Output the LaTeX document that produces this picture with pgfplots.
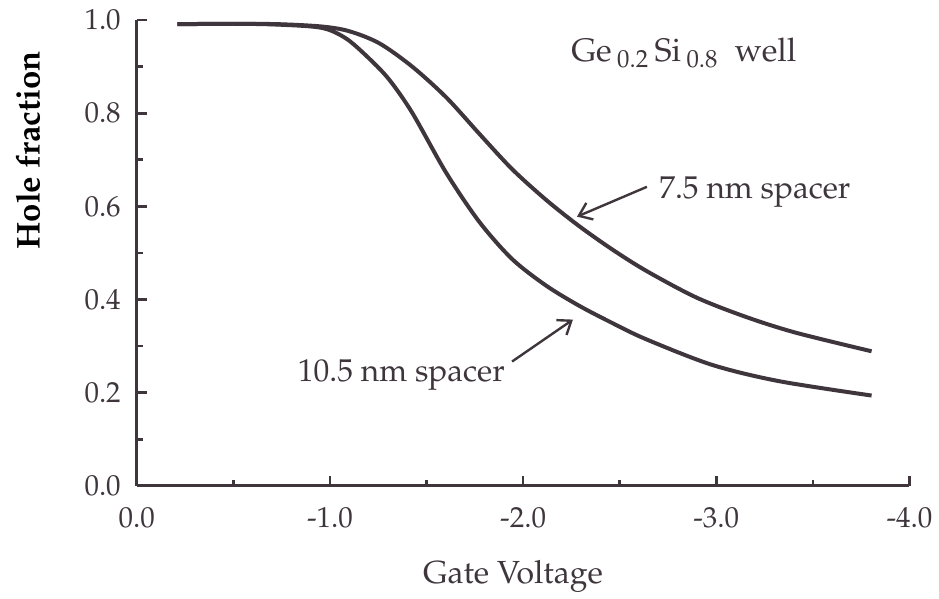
\documentclass[border=0pt]{standalone}
\usepackage[T1]{fontenc}
\usepackage{mathpazo}
\usepackage{pgfplots}
\pgfplotsset{compat=1.18}
\usepackage{pgfplotstable}
\usetikzlibrary{arrows.meta}

\definecolor{ink}{RGB}{62,54,60}

% Hole fraction versus gate voltage, 10.5 nm spacer
\pgfplotstableread{
V frac
-0.21 0.991
-0.50 0.992
-0.74 0.990
-0.96 0.983
-1.085 0.960
-1.204 0.917
-1.307 0.872
-1.426 0.801
-1.602 0.672
-1.773 0.567
-1.943 0.487
-2.119 0.430
-2.289 0.387
-2.460 0.350
-2.636 0.315
-2.977 0.260
-3.323 0.225
-3.804 0.194
}\spacerwide

% Hole fraction versus gate voltage, 7.5 nm spacer
\pgfplotstableread{
V frac
-0.21 0.991
-0.50 0.992
-0.74 0.991
-0.96 0.986
-1.10 0.976
-1.256 0.950
-1.426 0.900
-1.602 0.834
-1.773 0.756
-1.943 0.680
-2.119 0.614
-2.289 0.558
-2.460 0.508
-2.636 0.462
-2.894 0.405
-3.152 0.363
-3.411 0.329
-3.804 0.289
}\spacernarrow

\begin{document}
\begin{tikzpicture}
\begin{axis}[
  scale only axis,
  width=387pt, height=233.35pt,
  xmin=0, xmax=4, ymin=0, ymax=1,
  axis lines*=left,
  axis line style={ink, line width=1.5pt},
  tick align=inside,
  tick style={ink, line width=1.3pt},
  major tick length=5pt,
  minor tick length=3pt,
  xtick={0,1,2,3,4},
  xticklabels={0.0,-1.0,-2.0,-3.0,-4.0},
  minor x tick num=1,
  ytick={0,0.2,0.4,0.6,0.8,1.0},
  yticklabels={0.0,0.2,0.4,0.6,0.8,1.0},
  minor y tick num=1,
  ticklabel style={font=\fontsize{14.5}{17}\selectfont, text=ink},
  xticklabel style={yshift=-7pt},
  yticklabel style={xshift=-4.5pt},
  xlabel={Gate Voltage},
  xlabel style={at={(axis cs:1.948,-0.2085)}, anchor=base,
    font=\fontsize{16}{19}\selectfont, text=ink},
  ylabel={\textbf{Hole fraction}},
  ylabel style={at={(axis cs:-0.563,0.72)}, anchor=center,
    font=\fontsize{16.5}{19}\selectfont, text=black},
  clip=false,
]
\addplot[ink, line width=2pt, smooth] table[x expr=-\thisrow{V}, y=frac] {\spacerwide};
\addplot[ink, line width=2pt, smooth] table[x expr=-\thisrow{V}, y=frac] {\spacernarrow};

\node[anchor=base west, inner sep=0pt, text=ink, font=\fontsize{16.3}{19}\selectfont]
  at (axis cs:2.248,0.910) {Ge\,$_{\mathrm{0.2}}$\,Si\,$_{\mathrm{0.8}}$\ \ well};
\node[anchor=base west, inner sep=0pt, text=ink, font=\fontsize{15.8}{18}\selectfont]
  at (axis cs:2.703,0.618) {7.5 nm spacer};
\node[anchor=base west, inner sep=0pt, text=ink, font=\fontsize{15.8}{18}\selectfont]
  at (axis cs:0.832,0.224) {10.5 nm spacer};

\draw[ink, line width=1.2pt, -{Straight Barb[length=6pt,width=9pt]}]
  (axis cs:2.641,0.642) -- (axis cs:2.279,0.578);
\draw[ink, line width=1.2pt, -{Straight Barb[length=6pt,width=9pt]}]
  (axis cs:1.943,0.267) -- (axis cs:2.258,0.357);

% page frame
\path (axis cs:-0.708,1.043) rectangle (axis cs:4.145,-0.226);
\end{axis}
\end{tikzpicture}
\end{document}
